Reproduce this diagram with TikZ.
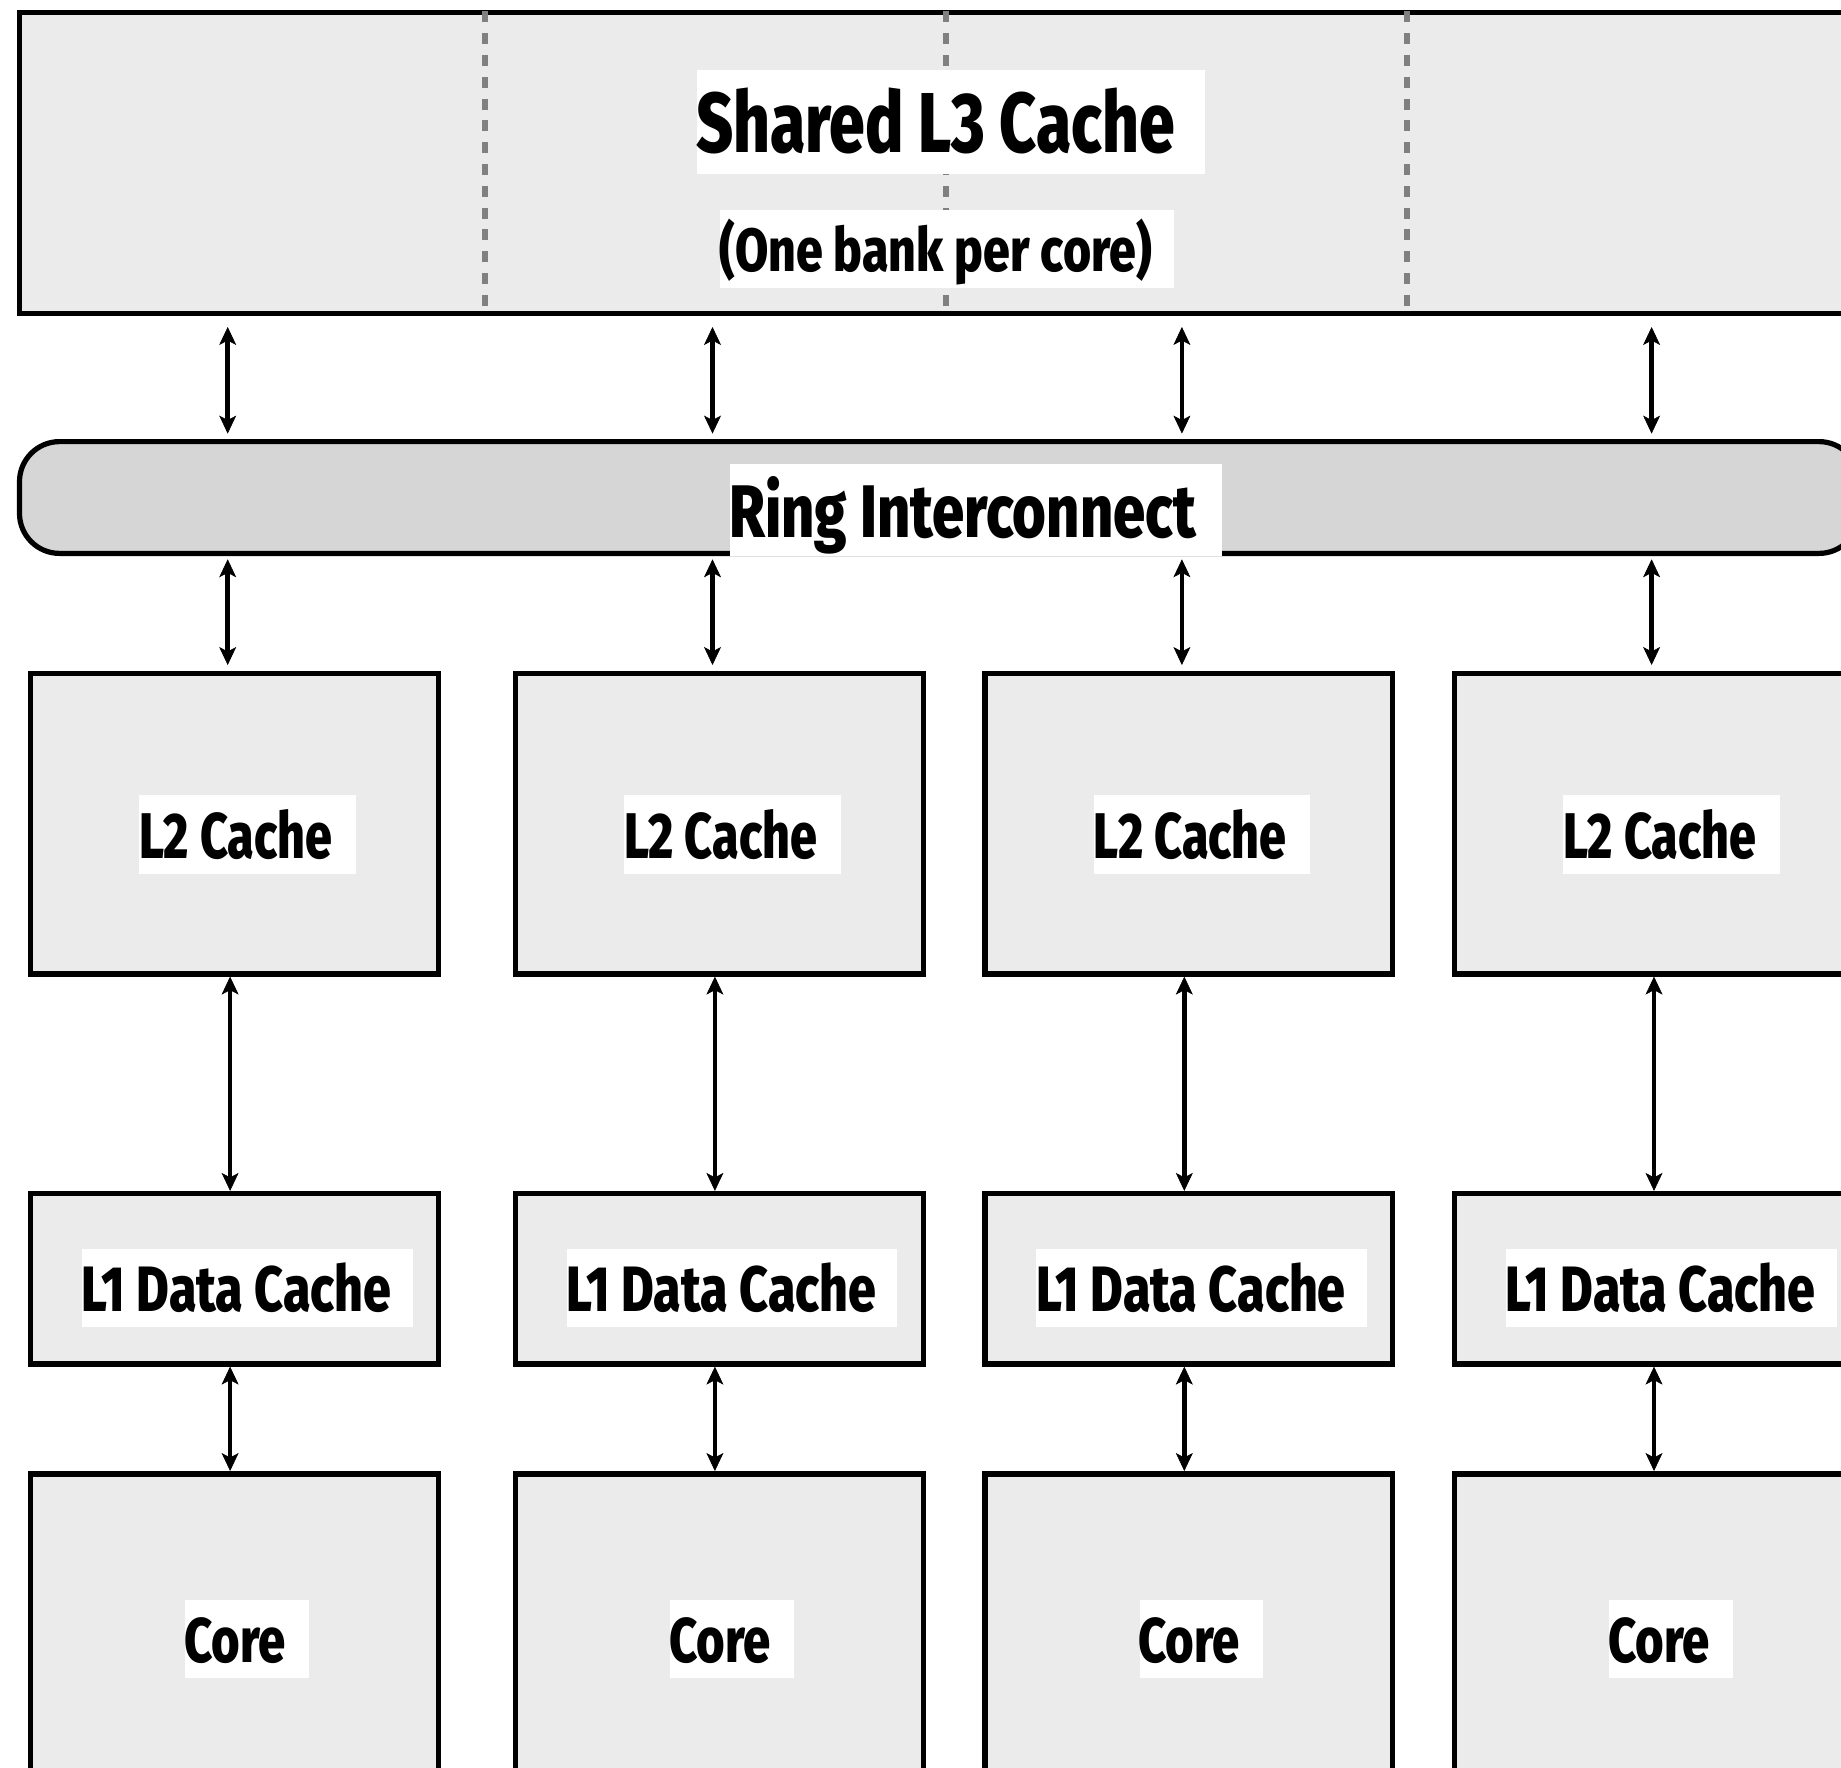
\documentclass[tikz,border=0pt]{standalone}
\usepackage{fontspec}
\setmainfont{Fira Sans}
\newfontfamily\lblfont{Fira Sans ExtraBold}
\usetikzlibrary{arrows.meta}
\definecolor{boxfill}{HTML}{EBEBEB}
\definecolor{ringfill}{HTML}{D6D6D6}
\definecolor{dashgray}{HTML}{808080}
\newcommand\fitt[3]{\resizebox{#1}{#2}{\lblfont\raisebox{0pt}[\fontcharht\font`H][0pt]{#3}}}
\begin{document}
\begin{tikzpicture}[x=1pt, y=-1pt,
  cbox/.style={draw=black, line width=5.2pt, fill=boxfill, inner sep=0pt, outer sep=0pt},
  wbox/.style={fill=white, draw=none, inner sep=0pt, outer sep=0pt},
  lbl/.style={inner sep=0pt, outer sep=0pt, anchor=base west},
  biarrow/.style={line width=4.6pt,
    {Stealth[length=18pt,width=17pt,inset=4.5pt,line width=0.6pt]}-{Stealth[length=18pt,width=17pt,inset=4.5pt,line width=0.6pt]}},
  dashline/.style={draw=dashgray, line width=5.5pt, dash pattern=on 11pt off 10.8pt}]
\clip (0,0) rectangle (1841,1768);
\fill[white] (0,0) rectangle (1841,1768);

% Shared L3 cache
\node[cbox, minimum width=1860.5pt, minimum height=300.7pt] (l3) at (949.75,163.15) {};
\foreach \x in {485,946,1407} \draw[dashline] (\x,11.5) -- (\x,306);
\node[wbox, minimum width=508pt, minimum height=104pt] (l3wb) at (951,122) {};
\node[lbl] (l3txt) at (696,152.3) {\fitt{478.5pt}{59pt}{Shared L3 Cache}};
\node[wbox, minimum width=454pt, minimum height=77.8pt] (bankwb) at (947,248.9) {};
\node[lbl] (banktxt) at (719.5,271.7) {\fitt{432pt}{42.3pt}{(One bank per core)}};

% Ring interconnect
\node[cbox, fill=ringfill, rounded corners=40pt, minimum width=1839.5pt, minimum height=111.8pt] (ring) at (939.25,497.5) {};
\node[wbox, minimum width=492.2pt, minimum height=91.7pt] (ringwb) at (976.1,509.85) {};
\node[lbl] (ringtxt) at (729.3,537.7) {\fitt{466.5pt}{51.7pt}{Ring Interconnect}};

% Per-core columns
\foreach \i/\L in {1/30.8,2/515.6,3/985,4/1454.7}{
  \node[cbox, minimum width=407.7pt, minimum height=300.5pt] (ltwo\i) at ({\L+203.85},823.75) {};
  \node[cbox, minimum width=407.7pt, minimum height=170.5pt] (lone\i) at ({\L+203.85},1278.75) {};
  \node[cbox, minimum width=407.7pt, minimum height=400pt] (core\i) at ({\L+203.85},1674) {};
  \node[wbox, minimum width=216.5pt, minimum height=79pt] (ltwowb\i) at ({\L+216.75},834.5) {};
  \node[lbl] (ltwotxt\i) at ({\L+108.5},858.3) {\fitt{193pt}{44.8pt}{L2 Cache}};
  \node[wbox, minimum width=330.6pt, minimum height=78.3pt] (lonewb\i) at ({\L+216.5},1287.85) {};
  \node[lbl] (lonetxt\i) at ({\L+51},1311) {\fitt{309.5pt}{44.5pt}{L1 Data Cache}};
  \node[wbox, minimum width=123.7pt, minimum height=78pt] (corewb\i) at ({\L+216.45},1639) {};
  \node[lbl] (coretxt\i) at ({\L+153.5},1662.4) {\fitt{101.5pt}{43.8pt}{Core}};
  \coordinate (ca\i) at ({\L+196.9},0);
  \coordinate (cb\i) at ({\L+199.3},0);
  \draw[biarrow, shorten <=13.5pt, shorten >=8pt] (ca\i |- l3.south) -- (ca\i |- ring.north);
  \draw[biarrow, shorten <=5.9pt, shorten >=8.5pt] (ca\i |- ring.south) -- (ca\i |- ltwo\i.north);
  \draw[biarrow, shorten <=2.6pt, shorten >=2.6pt] (cb\i |- ltwo\i.south) -- (cb\i |- lone\i.north);
  \draw[biarrow, shorten <=2.6pt, shorten >=3pt] (cb\i |- lone\i.south) -- (cb\i |- core\i.north);
}
\end{tikzpicture}
\end{document}
